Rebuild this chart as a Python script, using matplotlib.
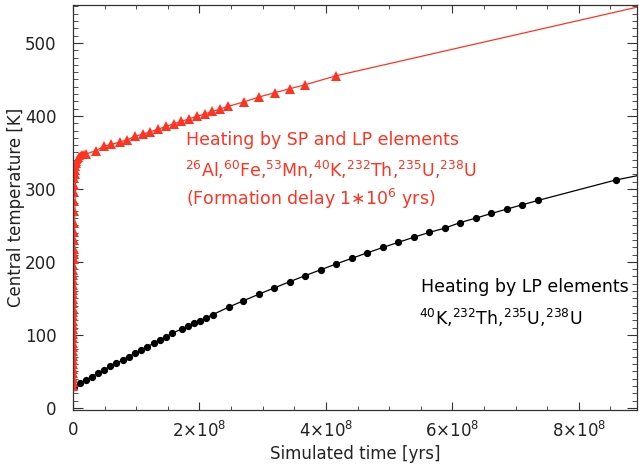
import numpy as np
import matplotlib
matplotlib.use("Agg")
import matplotlib.pyplot as plt
from matplotlib.ticker import MultipleLocator

# time in units of 1e8 yrs, temperature in K
# LP elements only (black)
lp_t = [0.011, 0.106, 0.20, 0.296, 0.395, 0.49, 0.59, 0.686, 0.786, 0.88, 0.98,
        1.08, 1.176, 1.276, 1.37, 1.47, 1.57, 1.72, 1.82, 1.92, 2.01, 2.11, 2.21,
        2.46, 2.69, 2.94, 3.185, 3.43, 3.675, 3.92, 4.165, 4.41, 4.655, 4.90,
        5.145, 5.39, 5.635, 5.88, 6.125, 6.37, 6.615, 6.86, 7.105, 7.35, 8.58]
lp_T = [28.1, 33.6, 38.1, 42.7, 48.1, 51.9, 57.3, 61.0, 65.6, 70.1, 74.8,
        79.3, 83.8, 88.5, 93.0, 97.5, 102.2, 108.1, 112.2, 115.9, 119.5, 123.6, 127.7,
        137.9, 146.5, 155.7, 164.4, 172.9, 181.2, 189.3, 197.2, 204.9, 212.4, 219.7,
        226.8, 233.7, 240.4, 246.2, 253.9, 259.9, 266.3, 272.3, 278.2, 284.1, 312.1]
lp_line_t = [0.0] + lp_t + [8.92]
lp_line_T = [26.0] + lp_T + [318.0]

# SP and LP elements (red), early dense outputs
sp_dense_t = [0.010, 0.0105, 0.011, 0.0115, 0.012, 0.0125, 0.013, 0.0135, 0.014, 0.0145,
              0.015, 0.0155, 0.016, 0.0165, 0.017, 0.0175, 0.018, 0.0185, 0.019, 0.0195,
              0.020, 0.0205, 0.021, 0.0215, 0.022, 0.0225, 0.023, 0.0235, 0.024, 0.0245,
              0.025, 0.026, 0.027, 0.028, 0.030, 0.032, 0.034, 0.036, 0.039, 0.042,
              0.045, 0.050, 0.056, 0.063, 0.071, 0.080, 0.090, 0.102,
              0.115, 0.13, 0.15, 0.17]
sp_dense_T = [28, 34, 40, 46, 52, 58, 64, 70, 76, 82,
              88, 94, 100, 106, 112, 118, 124, 130, 136, 142,
              148, 154, 160, 167, 174, 181, 188, 195, 202, 209,
              216, 228, 240, 252, 268, 282, 294, 304, 313, 319,
              324, 330, 334, 337, 339.5, 341.5, 343, 344.5,
              345.5, 346.5, 347.3, 348.0]
sp_t = [0.21, 0.36, 0.485, 0.607, 0.738, 0.86, 0.98, 1.107, 1.224, 1.35, 1.477,
        1.59, 1.714, 1.84, 1.96, 2.08, 2.20, 2.33, 2.45, 2.70, 2.94, 3.19, 3.43,
        3.675, 4.165]
sp_T = [348.1, 352.3, 358.2, 360.9, 364.2, 367.4, 371.9, 375.2, 378.3, 382.0, 385.6,
        389.3, 392.5, 396.2, 399.3, 402.6, 406.2, 409.5, 413.0, 419.1, 425.9, 431.8, 437.3,
        442.8, 455.1]
sp_line_t = sp_dense_t + sp_t + [8.92]
sp_line_T = sp_dense_T + sp_T + [549.0]

xticks = [0, 2, 4, 6, 8]
xtick_labels = ["0", r"2$\times$10$^8$", r"4$\times$10$^8$", r"6$\times$10$^8$", r"8$\times$10$^8$"]
yticks = [0, 100, 200, 300, 400, 500]

red = "#ff3322"

plt.rcParams["font.family"] = ["DejaVu Sans"]
plt.rcParams["mathtext.fontset"] = "dejavusans"

fig = plt.figure(figsize=(6.39, 4.65), dpi=100)
ax = fig.add_axes([73 / 639, 55 / 465, 564 / 639, 405 / 465])

ax.plot(lp_line_t, lp_line_T, color="black", lw=0.9)
ax.plot(lp_t, lp_T, "o", color="black", ms=4.2)

ax.plot(sp_line_t, sp_line_T, color=red, lw=0.9)
ax.plot(sp_dense_t, sp_dense_T, "^", color=red, ms=5.5, mew=0)
ax.plot(sp_t, sp_T, "^", color=red, ms=7, mew=0)

ax.set_xlim(0, 8.92)
ax.set_ylim(-3, 552)
ax.set_xticks(xticks)
ax.set_xticklabels(xtick_labels)
ax.set_yticks(yticks)
ax.xaxis.set_minor_locator(MultipleLocator(0.5))
ax.yaxis.set_minor_locator(MultipleLocator(10))
ax.tick_params(which="both", direction="in", top=True, right=True, labelsize=12, color="#333333",
               labelcolor="#222222")
ax.tick_params(axis="x", which="major", length=6, pad=8)
ax.tick_params(axis="x", which="minor", length=3)
ax.tick_params(axis="y", which="major", length=7.5, pad=12)
ax.tick_params(axis="y", which="minor", length=3.5)
for s in ax.spines.values():
    s.set_linewidth(0.9)
    s.set_color("#333333")

ax.set_xlabel("Simulated time [yrs]", fontsize=12, labelpad=3, color="#222222")
ax.set_ylabel("Central temperature [K]", fontsize=12, labelpad=0, color="#222222")

ax.text(1.79, 367, "Heating by SP and LP elements", color=red, fontsize=12.5, va="center")
ax.text(1.77, 326, r"$^{26}$Al,$^{60}$Fe,$^{53}$Mn,$^{40}$K,$^{232}$Th,$^{235}$U,$^{238}$U",
        color=red, fontsize=12.5, va="center")
ax.text(1.79, 286, r"(Formation delay 1$\ast$10$^6$ yrs)", color=red, fontsize=12.5, va="center")

ax.text(5.5, 165, "Heating by LP elements", color="black", fontsize=12.5, va="center")
ax.text(5.48, 123, r"$^{40}$K,$^{232}$Th,$^{235}$U,$^{238}$U", color="black", fontsize=12.5, va="center")

fig.savefig("out.png", dpi=100)
